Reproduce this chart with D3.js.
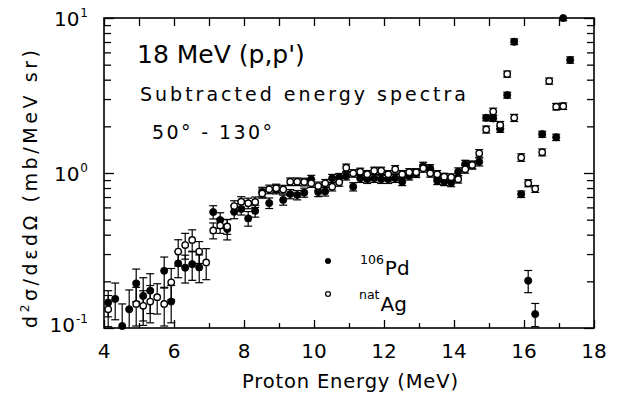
<!DOCTYPE html>
<html>
<head>
<meta charset="utf-8">
<script src="https://cdn.jsdelivr.net/npm/d3@7"></script>
<style>
  html, body { margin: 0; padding: 0; background: #fff; }
  svg { display: block; }
  text { font-family: "DejaVu Sans", "Noto Sans", sans-serif; fill: #000; }
</style>
</head>
<body>
<svg id="chart" width="620" height="396"></svg>
<script>
// 106Pd(p,p') subtracted spectrum, 50-130 deg
const energyPd = [4.12, 4.32, 4.52, 4.72, 4.92, 5.12, 5.32, 5.72, 5.92, 6.12, 6.32, 6.52, 6.72,
  7.12, 7.32, 7.52, 7.72, 7.92, 8.12, 8.32, 8.52, 8.72, 8.92, 9.12, 9.32, 9.52, 9.72, 9.92,
  10.12, 10.32, 10.52, 10.72, 10.92, 11.12, 11.32, 11.52, 11.72, 11.92, 12.12, 12.32, 12.52,
  12.72, 12.92, 13.12, 13.32, 13.52, 13.72, 13.92, 14.12, 14.32, 14.52, 14.72, 14.92, 15.12,
  15.32, 15.52, 15.72, 15.92, 16.12, 16.32, 16.52, 16.92, 17.12, 17.32];
const sigmaPd = [0.146, 0.154, 0.103, 0.132, 0.194, 0.161, 0.174, 0.234, 0.148, 0.261, 0.245, 0.258, 0.246,
  0.56, 0.497, 0.435, 0.562, 0.586, 0.509, 0.569, 0.754, 0.64, 0.783, 0.67, 0.732, 0.721, 0.748, 0.911,
  0.754, 0.76, 0.924, 0.938, 0.956, 0.816, 0.924, 0.911, 0.924, 0.911, 0.911, 0.924, 0.879,
  0.956, 0.995, 1.109, 1.072, 0.892, 0.879, 0.866, 1.019, 1.143, 1.127, 1.18, 2.27, 2.25,
  1.92, 3.18, 7.03, 0.73, 0.202, 0.123, 1.78, 1.70, 10.0, 5.36];
const errPd = [0.028, 0.041, 0.04, 0.044, 0.046, 0.05, 0.05, 0.053, 0.04, 0.05, 0.05, 0.055, 0.05,
  0.055, 0.057, 0.065, 0.055, 0.05, 0.055, 0.05, 0.055, 0.05, 0.05, 0.05, 0.05, 0.05, 0.05, 0.055,
  0.05, 0.05, 0.055, 0.055, 0.055, 0.05, 0.055, 0.055, 0.055, 0.055, 0.055, 0.055, 0.05,
  0.055, 0.06, 0.065, 0.06, 0.05, 0.05, 0.05, 0.06, 0.065, 0.065, 0.07, 0.1, 0.1,
  0.09, 0.14, 0.3, 0.035, 0.033, 0.021, 0.08, 0.08, 0.4, 0.25];

// natAg(p,p') subtracted spectrum, 50-130 deg
const energyAg = [4.12, 4.92, 5.12, 5.32, 5.52, 5.72, 5.92, 6.12, 6.32, 6.52, 6.72, 6.92,
  7.12, 7.32, 7.52, 7.72, 7.92, 8.12, 8.32, 8.52, 8.72, 8.92, 9.12, 9.32, 9.52, 9.72, 9.92,
  10.12, 10.32, 10.52, 10.72, 10.92, 11.12, 11.32, 11.52, 11.72, 11.92, 12.12, 12.32, 12.52,
  12.72, 12.92, 13.12, 13.32, 13.52, 13.72, 13.92, 14.12, 14.32, 14.52, 14.72, 14.92, 15.12,
  15.32, 15.52, 15.72, 15.92, 16.12, 16.32, 16.52, 16.72, 16.92, 17.12];
const sigmaAg = [0.132, 0.143, 0.139, 0.148, 0.158, 0.143, 0.197, 0.311, 0.343, 0.37, 0.311, 0.265,
  0.426, 0.458, 0.452, 0.612, 0.653, 0.638, 0.65, 0.738, 0.785, 0.797, 0.783, 0.879, 0.879, 0.875, 0.858,
  0.824, 0.858, 0.816, 0.871, 1.082, 0.995, 1.019, 0.982, 1.035, 1.035, 0.982, 1.057, 0.982,
  1.011, 1.011, 1.072, 0.995, 0.982, 0.946, 0.938, 0.911, 1.057, 1.127, 1.34, 1.91, 2.49,
  2.04, 4.35, 2.27, 1.26, 0.86, 0.79, 1.36, 3.92, 2.68, 2.70];
const errAg = [0.03, 0.04, 0.035, 0.04, 0.035, 0.04, 0.045, 0.06, 0.065, 0.06, 0.05, 0.06,
  0.05, 0.05, 0.05, 0.05, 0.05, 0.05, 0.05, 0.05, 0.05, 0.05, 0.05, 0.05, 0.05, 0.05, 0.05,
  0.05, 0.05, 0.05, 0.05, 0.06, 0.055, 0.055, 0.055, 0.055, 0.055, 0.055, 0.06, 0.055,
  0.055, 0.055, 0.06, 0.055, 0.055, 0.05, 0.05, 0.05, 0.06, 0.065, 0.075, 0.1, 0.13,
  0.11, 0.2, 0.12, 0.07, 0.045, 0.04, 0.07, 0.18, 0.13, 0.13];

const xMajorTicks = [4, 6, 8, 10, 12, 14, 16, 18];
const xMinorTicks = [5, 7, 9, 11, 13, 15, 17];
const yDecadeExps = [-1, 0, 1];
const yMinorTicks = [0.2, 0.3, 0.4, 0.5, 0.6, 0.7, 0.8, 0.9, 2, 3, 4, 5, 6, 7, 8, 9];

const svg = d3.select("#chart");
const plotLeft = 104, plotRight = 594, plotTop = 18, plotBottom = 328;

const x = d3.scaleLinear().domain([4, 18]).range([plotLeft, plotRight]);
const y = d3.scaleLog().domain([0.1, 10]).range([plotBottom, plotTop]);

svg.append("defs").append("clipPath").attr("id", "plot-clip")
  .append("rect").attr("x", plotLeft).attr("y", plotTop)
  .attr("width", plotRight - plotLeft).attr("height", plotBottom - plotTop);

// widen a label to a given overall length by spreading its letters
function spreadTo(sel, width) {
  const node = sel.node();
  const n = node.getNumberOfChars();
  const w = node.getComputedTextLength();
  if (n > 1 && width > w) sel.attr("letter-spacing", (width - w) / (n - 1));
  return sel;
}

// inward ticks on all four sides
function tickAxis(axisFn, scale, values, size, transform) {
  const g = svg.append("g").attr("transform", transform)
    .call(axisFn(scale).tickValues(values).tickSize(-size).tickFormat(""));
  g.select(".domain").remove();
  g.selectAll(".tick line").attr("stroke", "#000").attr("stroke-width", 1.3);
  return g;
}
tickAxis(d3.axisBottom, x, xMajorTicks, 8, `translate(0,${plotBottom})`);
tickAxis(d3.axisBottom, x, xMinorTicks, 5, `translate(0,${plotBottom})`);
tickAxis(d3.axisTop, x, xMajorTicks, 8, `translate(0,${plotTop})`);
tickAxis(d3.axisTop, x, xMinorTicks, 8, `translate(0,${plotTop})`);
const yDecades = yDecadeExps.map(e => Math.pow(10, e));
tickAxis(d3.axisLeft, y, yDecades, 10, `translate(${plotLeft},0)`);
tickAxis(d3.axisLeft, y, yMinorTicks, 7, `translate(${plotLeft},0)`);
tickAxis(d3.axisRight, y, yDecades, 10, `translate(${plotRight},0)`);
tickAxis(d3.axisRight, y, yMinorTicks, 7, `translate(${plotRight},0)`);

// frame
svg.append("rect").attr("x", plotLeft).attr("y", plotTop)
  .attr("width", plotRight - plotLeft).attr("height", plotBottom - plotTop)
  .attr("fill", "none").attr("stroke", "#000").attr("stroke-width", 1.6);

// x tick labels
svg.append("g").selectAll("text").data(xMajorTicks).join("text")
  .attr("x", d => x(d)).attr("y", plotBottom + 30)
  .attr("text-anchor", "middle").attr("font-size", 20)
  .text(d => d);

// y tick labels as 10^n
const yLab = svg.append("g").selectAll("text").data(yDecadeExps).join("text")
  .attr("x", 88).attr("y", d => y(Math.pow(10, d)) + (d === -1 ? 4 : 8))
  .attr("text-anchor", "end").attr("font-size", 20);
yLab.append("tspan").text("10");
yLab.append("tspan").attr("dx", 1).attr("dy", -9).attr("font-size", 12).text(d => d);

// axis titles
const xt = svg.append("text").attr("x", 242).attr("y", 388).attr("font-size", 19.5)
  .text("Proton Energy (MeV)");
spreadTo(xt, 216);

const yt = svg.append("text").attr("transform", "translate(37,328) rotate(-90)")
  .attr("font-size", 19);
yt.append("tspan").text("d");
yt.append("tspan").attr("dy", -8).attr("font-size", 12).text("2");
yt.append("tspan").attr("dy", 8).text("\u03c3/d\u03b5d\u03a9 (mb/MeV sr)");
spreadTo(yt, 278);

// annotations
spreadTo(svg.append("text").attr("x", 137).attr("y", 63).attr("font-size", 25)
  .text("18 MeV (p,p')"), 166);
spreadTo(svg.append("text").attr("x", 140).attr("y", 101).attr("font-size", 19)
  .text("Subtracted energy spectra"), 326);
spreadTo(svg.append("text").attr("x", 152).attr("y", 139).attr("font-size", 19)
  .text("50\u00b0 - 130\u00b0"), 120);

// data series
const pd = energyPd.map((e, i) => ({ e, v: sigmaPd[i], err: errPd[i] }));
const ag = energyAg.map((e, i) => ({ e, v: sigmaAg[i], err: errAg[i] }));

function drawSeries(data, filled) {
  const g = svg.append("g");
  const eb = g.append("g").attr("clip-path", "url(#plot-clip)")
    .attr("stroke", "#000").attr("stroke-width", 1.2);
  const lo = d => y(Math.max(d.v - d.err, 0.05));
  const hi = d => y(d.v + d.err);
  eb.selectAll(".bar").data(data).join("line")
    .attr("x1", d => x(d.e)).attr("x2", d => x(d.e))
    .attr("y1", lo).attr("y2", hi);
  eb.selectAll(".capt").data(data).join("line")
    .attr("x1", d => x(d.e) - 4).attr("x2", d => x(d.e) + 4)
    .attr("y1", hi).attr("y2", hi);
  eb.selectAll(".capb").data(data).join("line")
    .attr("x1", d => x(d.e) - 4).attr("x2", d => x(d.e) + 4)
    .attr("y1", lo).attr("y2", lo);
  g.selectAll("circle").data(data).join("circle")
    .attr("cx", d => x(d.e)).attr("cy", d => y(d.v))
    .attr("r", filled ? 3.6 : 3.2)
    .attr("fill", filled ? "#000" : "#fff")
    .attr("stroke", "#000").attr("stroke-width", filled ? 0.8 : 1.4);
}
drawSeries(pd, true);
drawSeries(ag, false);

// legend
svg.append("circle").attr("cx", 328).attr("cy", 261).attr("r", 3).attr("fill", "#000");
svg.append("circle").attr("cx", 328).attr("cy", 294).attr("r", 2.4)
  .attr("fill", "#fff").attr("stroke", "#000").attr("stroke-width", 1.2);
const l1 = svg.append("text").attr("x", 360).attr("y", 275).attr("font-size", 20);
l1.append("tspan").attr("dy", -11).attr("font-size", 12.5).text("106");
l1.append("tspan").attr("dx", 1).attr("dy", 11).text("Pd");
const l2 = svg.append("text").attr("x", 359).attr("y", 311).attr("font-size", 20);
l2.append("tspan").attr("dy", -12).attr("font-size", 12.5).text("nat");
l2.append("tspan").attr("dx", 1).attr("dy", 12).text("Ag");
</script>
</body>
</html>
